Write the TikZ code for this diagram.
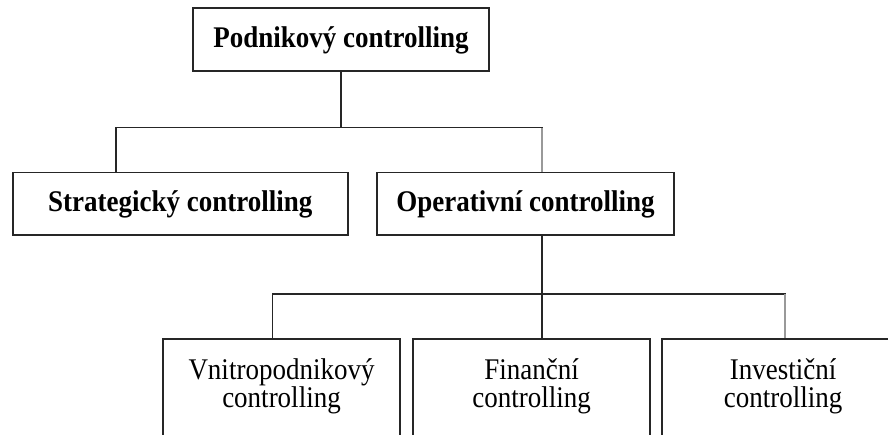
\documentclass[tikz,border=0pt]{standalone}
\usepackage{fontspec}
\setmainfont{Liberation Serif}[FakeStretch=0.9]
\begin{document}
\begin{tikzpicture}[x=1pt,y=-1pt,
  frame/.style={draw=black!85, line width=1.7pt, rectangle, inner sep=0pt},
  headbox/.style={frame, font=\bfseries\fontsize{30}{28.5}\selectfont,
                  text height=21pt, text depth=5pt},
  lowbox/.style={frame, anchor=north, minimum width=237, minimum height=150},
  lowtext/.style={anchor=base, align=center, inner sep=0pt,
                  font=\fontsize{30}{28.5}\selectfont},
  link/.style={draw=black!85, line width=1.4pt, line cap=rect},
  faint/.style={draw=black!40, line width=1.4pt}]
\useasboundingbox (0,0) rectangle (888,434);
\clip (0,0) rectangle (888,434);
\fill[white] (0,0) rectangle (888,434);

% upper levels
\node[headbox, minimum width=296, minimum height=63] (top) at (341,39.5) {Podnikový controlling};
\node[headbox, minimum width=335, minimum height=62.5] (strat) at (180.2,203.8) {Strategický controlling};
\node[headbox, minimum width=296.5, minimum height=62.5] (oper) at (525.5,203.8) {Operativní controlling};

% lower level (boxes run past the bottom edge); base anchor sits on the last line
\node[lowbox] (vn) at (281.5,338) {};
\node[lowbox] (fi) at (531.5,338) {};
\node[lowbox] (iv) at (780.5,338) {};
\node[lowtext] (vnt) at (281.5,407.5) {Vnitropodnikový\\controlling};
\node[lowtext] (fit) at (531.5,407.5) {Finanční\\controlling};
\node[lowtext] (ivt) at (783,407.5) {Investiční\\controlling};

% first branching
\coordinate (bar1) at (342,127.5);
\coordinate (sdrop) at (116,127.5);
\coordinate (odrop) at (542,127.5);
\draw[link] (top.south) -- (top.south |- bar1);
\draw[link] (sdrop) -- (odrop);
\draw[link] (sdrop) -- (sdrop |- strat.north);
\draw[faint] (odrop) -- (odrop |- oper.north);

% second branching
\coordinate (odown) at (542,294);
\coordinate (vdrop) at (272.7,294);
\coordinate (idrop) at (785,294);
\draw[link] (oper.south -| odown) -- (odown);
\draw[link] (vdrop) -- (idrop);
\draw[link] (vdrop) -- (vdrop |- vn.north);
\draw[link] (odown) -- (odown |- fi.north);
\draw[faint] (idrop) -- (idrop |- iv.north);
\end{tikzpicture}
\end{document}
